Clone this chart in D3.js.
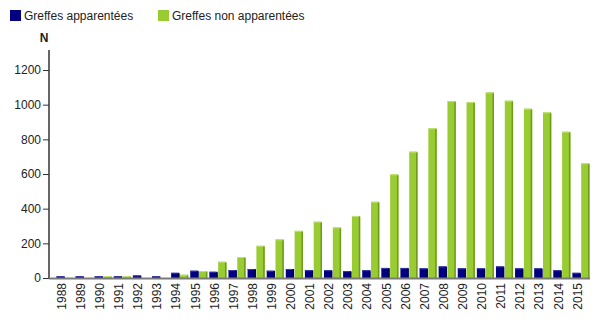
<!DOCTYPE html>
<html><head><meta charset="utf-8">
<script src="https://cdn.jsdelivr.net/npm/d3@7"></script>
<style>
body{margin:0;background:#fff;}
svg{display:block;font-family:"Liberation Sans",Arial,sans-serif;}
</style></head>
<body><svg id="c" width="607" height="334"></svg>
<script>
const years = ["1988","1989","1990","1991","1992","1993","1994","1995","1996","1997","1998","1999","2000","2001","2002","2003","2004","2005","2006","2007","2008","2009","2010","2011","2012","2013","2014","2015"];
const seriesNames = ["Greffes apparentées","Greffes non apparentées"];
const apparentees = [10,10,10,10,15,10,30,42,36,46,52,42,52,45,45,40,45,58,58,56,67,56,56,67,56,56,45,30];
const nonApparentees = [0,0,10,10,0,0,19,40,94,121,186,223,272,325,292,358,440,598,729,864,1021,1015,1071,1023,977,956,844,662];
const yTicks = [0,200,400,600,800,1000,1200];
const colors = ["#000080","#99cc33"];
const sideColors = ["#00004d","#6f9a1c"];
const topColors = ["#3a3aa8","#c2e07a"];

const svg = d3.select("#c");
const x0 = d3.scaleBand().domain(years).range([55,590]).padding(0);
const x1 = d3.scaleBand().domain([0,1]).range([1.5,x0.bandwidth()-0.5]).paddingInner(0.06);
const y = d3.scaleLinear().domain([0,1200]).range([278,70]);

// legend
const lg = svg.append("g");
seriesNames.forEach((n,i)=>{
  const lx = [10,158][i];
  lg.append("rect").attr("x",lx).attr("y",10).attr("width",11).attr("height",11).attr("fill",colors[i]);
  lg.append("text").attr("x",lx+14).attr("y",20).attr("font-size",12).attr("fill","#222").text(n);
});
svg.append("text").attr("x",44).attr("y",42).attr("text-anchor","middle").attr("font-size",12).attr("font-weight","bold").attr("fill","#222").text("N");

// bars
const data = years.map((yr,i)=>({yr, v:[apparentees[i],nonApparentees[i]]}));
const g = svg.append("g");
data.forEach(d=>{
  d.v.forEach((v,s)=>{
    if(v<=0) return;
    const bx = x0(d.yr)+x1(s), bw = x1.bandwidth();
    const top = y(v), h = y(0)-top;
    g.append("rect").attr("x",bx).attr("y",top).attr("width",bw).attr("height",h).attr("fill",colors[s]);
    g.append("rect").attr("x",bx+bw-1.5).attr("y",top+1).attr("width",1.5).attr("height",Math.max(0,h-1)).attr("fill",sideColors[s]);
    g.append("rect").attr("x",bx).attr("y",top).attr("width",bw-1.5).attr("height",1).attr("fill",topColors[s]);
  });
});

// y axis
const ya = svg.append("g").attr("transform","translate(49,0)")
  .call(d3.axisLeft(y).tickValues(yTicks).tickSize(6).tickPadding(2).tickFormat(d3.format("d")));
ya.select(".domain").remove();
ya.selectAll("line").attr("stroke","#333");
ya.selectAll("text").attr("font-size",12).attr("fill","#222").attr("font-family","Liberation Sans, Arial, sans-serif");
svg.append("line").attr("x1",49).attr("x2",49).attr("y1",50).attr("y2",279).attr("stroke","#333").attr("stroke-width",1.5);

// x axis
const xa = svg.append("g").attr("transform","translate(0,279)")
  .call(d3.axisBottom(x0).tickSize(0).tickPadding(4));
xa.select(".domain").remove();
xa.selectAll("text").attr("font-size",12).attr("fill","#222").attr("font-family","Liberation Sans, Arial, sans-serif")
  .attr("transform","rotate(-90)").attr("text-anchor","end").attr("x",-4).attr("y",0).attr("dy","0.35em")
  .attr("dx",0);
xa.selectAll(".tick").attr("transform",d=>`translate(${x0(d)+x0.bandwidth()/2-3},0)`);
svg.append("line").attr("x1",49).attr("x2",590).attr("y1",278.5).attr("y2",278.5).attr("stroke","#7a7a7a").attr("stroke-width",2);
</script></body></html>
